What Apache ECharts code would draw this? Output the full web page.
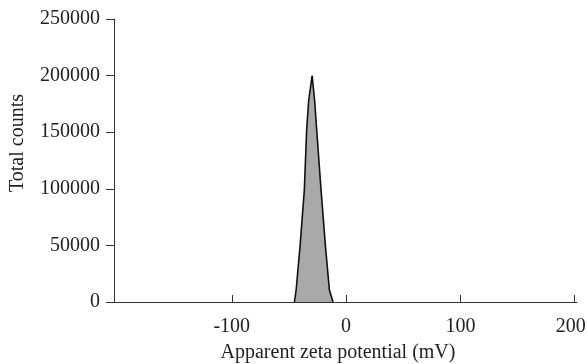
<!DOCTYPE html>
<html>
<head>
<meta charset="utf-8">
<script src="https://cdn.jsdelivr.net/npm/echarts@6/dist/echarts.min.js"></script>
<style>html,body{margin:0;padding:0;background:#fff}#c{width:587px;height:364px}</style>
</head>
<body>
<div id="c"></div>
<script>
const zetaMv = [-45.2, -43.7, -40.2, -36.5, -34.5, -32.7, -29.7, -27.5, -25.7, -21.9, -18.1, -14.6, -11.4];
const totalCounts = [0, 10600, 50000, 99000, 152000, 178000, 200000, 178000, 152000, 99000, 50000, 10600, 0];
const xTicks = [-100, 0, 100, 200];
const yTicks = [0, 50000, 100000, 150000, 200000, 250000];

const font = 'Liberation Serif';
const fs = 20;
const chart = echarts.init(document.getElementById('c'), null, {renderer: 'canvas'});
chart.setOption({
  animation: false,
  grid: {left: 114, right: 10, top: 19, bottom: 62, outerBoundsMode: 'none', containLabel: false},
  xAxis: {
    type: 'value', min: -203, max: 202,
    name: 'Apparent zeta potential (mV)', nameLocation: 'middle', nameGap: 41,
    nameTextStyle: {fontFamily: font, fontSize: fs, color: '#222', padding: [0, 15, 0, 0]},
    axisLine: {onZero: false, lineStyle: {color: '#333', width: 1}},
    axisTick: {inside: true, length: 7, customValues: xTicks, lineStyle: {color: '#333'}},
    axisLabel: {customValues: xTicks, fontFamily: font, fontSize: fs, color: '#222', margin: 15,
      formatter: v => v === xTicks[xTicks.length - 1] ? '{last|' + v + '}' : String(v),
      rich: {last: {fontFamily: font, fontSize: fs, color: '#222', padding: [0, 8, 0, 0]}}},
    splitLine: {show: false}
  },
  yAxis: {
    type: 'value', min: 0, max: 250000,
    name: 'Total counts', nameLocation: 'middle', nameGap: 86, nameRotate: 90,
    nameTextStyle: {fontFamily: font, fontSize: fs, color: '#222', padding: [0, 0, 0, 35]},
    axisLine: {show: true, onZero: false, lineStyle: {color: '#333', width: 1}},
    axisTick: {show: true, length: 8, customValues: yTicks, lineStyle: {color: '#333'}},
    axisLabel: {customValues: yTicks, fontFamily: font, fontSize: fs, color: '#222', margin: 14,
      formatter: v => String(v)},
    splitLine: {show: false}
  },
  series: [{
    type: 'line',
    data: zetaMv.map((x, i) => [x, totalCounts[i]]),
    symbol: 'none',
    lineStyle: {color: '#111', width: 1.6},
    areaStyle: {color: '#a9a9a9', opacity: 1}
  }]
});
</script>
</body>
</html>
